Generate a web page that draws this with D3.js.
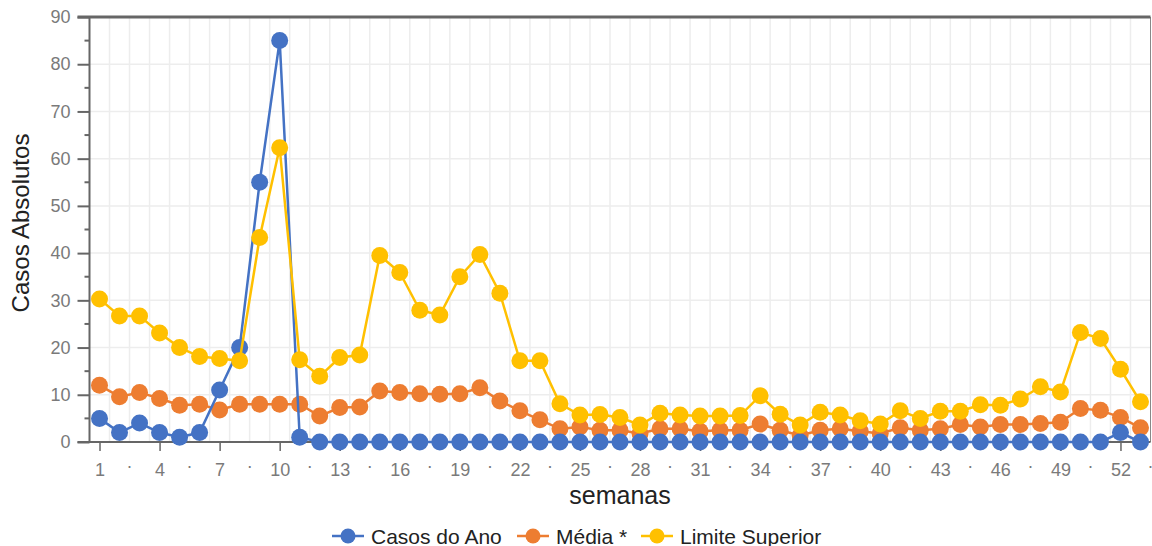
<!DOCTYPE html>
<html>
<head>
<meta charset="utf-8">
<script src="https://cdn.jsdelivr.net/npm/d3@7"></script>
<style>
  body { margin: 0; background: #fff; }
  svg { display: block; font-family: "Liberation Sans", Arial, sans-serif; }
</style>
</head>
<body>
<script>
const weeks = d3.range(1, 54);

const casosAno = [5, 2, 4, 2, 1, 2, 11, 20, 55, 85, 1,
  0, 0, 0, 0, 0, 0, 0, 0, 0, 0,
  0, 0, 0, 0, 0, 0, 0, 0, 0, 0,
  0, 0, 0, 0, 0, 0, 0, 0, 0, 0,
  0, 0, 0, 0, 0, 0, 0, 0, 0, 0,
  2, 0];

const media = [12.0, 9.6, 10.5, 9.2, 7.8, 8.0, 6.8, 8.0, 8.0, 8.0,
  8.0, 5.5, 7.3, 7.4, 10.8, 10.5, 10.2, 10.1, 10.2, 11.5,
  8.7, 6.6, 4.7, 2.8, 3.2, 2.5, 2.5, 1.8, 2.8, 2.8,
  2.3, 2.5, 2.5, 3.8, 2.5, 1.4, 2.5, 2.8, 2.3, 1.8,
  3.0, 2.5, 2.8, 3.7, 3.2, 3.7, 3.7, 3.9, 4.2, 7.1,
  6.7, 5.2, 3.0];

const limite = [30.3, 26.7, 26.7, 23.1, 20.0, 18.1, 17.7, 17.2, 43.3, 62.3,
  17.4, 13.9, 17.9, 18.4, 39.5, 35.9, 27.9, 26.9, 35.0, 39.7,
  31.5, 17.2, 17.2, 8.1, 5.7, 5.8, 5.2, 3.6, 6.1, 5.7,
  5.5, 5.5, 5.6, 9.8, 5.9, 3.6, 6.3, 5.7, 4.5, 3.8,
  6.6, 5.0, 6.5, 6.5, 7.9, 7.8, 9.1, 11.7, 10.6, 23.2,
  21.9, 15.4, 8.5];

const seriesNames = ["Casos do Ano", "Média *", "Limite Superior"];
const seriesColors = ["#4472c4", "#ed7d31", "#ffc000"];

const yTicks = [0, 10, 20, 30, 40, 50, 60, 70, 80, 90];
const xTickWeeks = d3.range(1, 53, 3);      // 1, 4, 7 ... 52
const xDotWeeks = d3.range(2.5, 54, 3);     // minor labels "·"

const width = 1152, height = 546;
const svg = d3.create("svg").attr("width", width).attr("height", height);

const x = d3.scaleLinear().domain([0.5, 53.5]).range([89.5, 1150.5]);
const y = d3.scaleLinear().domain([0, 90]).range([442, 17]);

// gridlines
const grid = svg.append("g");
grid.selectAll("line.v")
  .data(d3.range(1.5, 53, 1))
  .join("line")
  .attr("x1", d => x(d)).attr("x2", d => x(d))
  .attr("y1", y(90)).attr("y2", y(0))
  .style("stroke", "#ededed").style("stroke-width", 1.5);
grid.selectAll("line.h")
  .data(yTicks.slice(1, -1))
  .join("line")
  .attr("x1", x(0.5)).attr("x2", x(53.5))
  .attr("y1", d => y(d)).attr("y2", d => y(d))
  .style("stroke", "#ededed").style("stroke-width", 1.5);

// frame
svg.append("line")
  .attr("x1", x(53.5)).attr("x2", x(53.5)).attr("y1", y(90)).attr("y2", y(0))
  .style("stroke", "#888").style("stroke-width", 1);

// y axis
const yAxis = d3.axisLeft(y).tickValues(yTicks).tickSize(12).tickPadding(7);
const gy = svg.append("g").attr("transform", `translate(${x(0.5)},0)`).call(yAxis);
gy.select(".domain").remove();
gy.selectAll(".tick line").style("stroke", "#666").style("stroke-width", 2);
gy.selectAll(".tick text").style("font-size", "18px").style("fill", "#7a7a7a")
  .style("font-family", "Liberation Sans, Arial, sans-serif");
// minor y ticks
svg.append("g").selectAll("line")
  .data(d3.range(5, 90, 10))
  .join("line")
  .attr("x1", x(0.5) - 5).attr("x2", x(0.5))
  .attr("y1", d => y(d)).attr("y2", d => y(d))
  .style("stroke", "#666").style("stroke-width", 2);

// x axis
const xAxis = d3.axisBottom(x).tickValues(xTickWeeks).tickSize(9).tickPadding(12)
  .tickFormat(d3.format("d"));
const gx = svg.append("g").attr("transform", `translate(0,${y(0)})`).call(xAxis);
gx.select(".domain").remove();
gx.selectAll(".tick line").style("stroke", "#666").style("stroke-width", 1.5);
gx.selectAll(".tick text").style("font-size", "18px").style("fill", "#7a7a7a")
  .style("font-family", "Liberation Sans, Arial, sans-serif");
svg.append("g").selectAll("text")
  .data(xDotWeeks)
  .join("text")
  .attr("x", d => x(d)).attr("y", y(0) + 30)
  .attr("text-anchor", "middle")
  .style("font-size", "18px").style("fill", "#7a7a7a")
  .text("·");

// axis lines
svg.append("line")
  .attr("x1", x(0.5)).attr("x2", x(0.5)).attr("y1", y(90)).attr("y2", y(0))
  .style("stroke", "#666").style("stroke-width", 2);
svg.append("line")
  .attr("x1", x(0.5) - 12).attr("x2", x(53.5)).attr("y1", y(0)).attr("y2", y(0))
  .style("stroke", "#666").style("stroke-width", 2);
svg.append("line")
  .attr("x1", x(0.5) - 12).attr("x2", x(53.5)).attr("y1", y(90)).attr("y2", y(90))
  .style("stroke", "#666").style("stroke-width", 3);

// series: orange under blue, yellow on top
const allSeries = [casosAno, media, limite];
const drawOrder = [1, 0, 2];
const line = d3.line().x((d, i) => x(weeks[i])).y(d => y(d));
drawOrder.forEach(si => {
  const g = svg.append("g");
  g.append("path")
    .attr("d", line(allSeries[si]))
    .style("fill", "none")
    .style("stroke", seriesColors[si])
    .style("stroke-width", 2.5);
  g.selectAll("circle")
    .data(allSeries[si])
    .join("circle")
    .attr("cx", (d, i) => x(weeks[i]))
    .attr("cy", d => y(d))
    .attr("r", 8.5)
    .style("fill", seriesColors[si]);
});

// axis titles
svg.append("text")
  .attr("x", (x(0.5) + x(53.5)) / 2).attr("y", 504)
  .attr("text-anchor", "middle")
  .style("font-size", "25px").style("fill", "#222")
  .text("semanas");
svg.append("text")
  .attr("transform", "translate(29,223) rotate(-90)")
  .attr("text-anchor", "middle")
  .style("font-size", "24px").style("fill", "#222")
  .text("Casos Absolutos");

// legend
const legendX = [332, 517, 641];
const lg = svg.append("g");
seriesNames.forEach((name, i) => {
  const item = lg.append("g").attr("transform", `translate(${legendX[i]},536)`);
  item.append("line").attr("x1", 0).attr("x2", 32).attr("y1", 0).attr("y2", 0)
    .style("stroke", seriesColors[i]).style("stroke-width", 2.5);
  item.append("circle").attr("cx", 16).attr("cy", 0).attr("r", 7.5)
    .style("fill", seriesColors[i]);
  item.append("text").attr("x", 39).attr("y", 7.5)
    .style("font-size", "21px").style("fill", "#222")
    .text(name);
});

d3.select("body").append(() => svg.node());
</script>
</body>
</html>
